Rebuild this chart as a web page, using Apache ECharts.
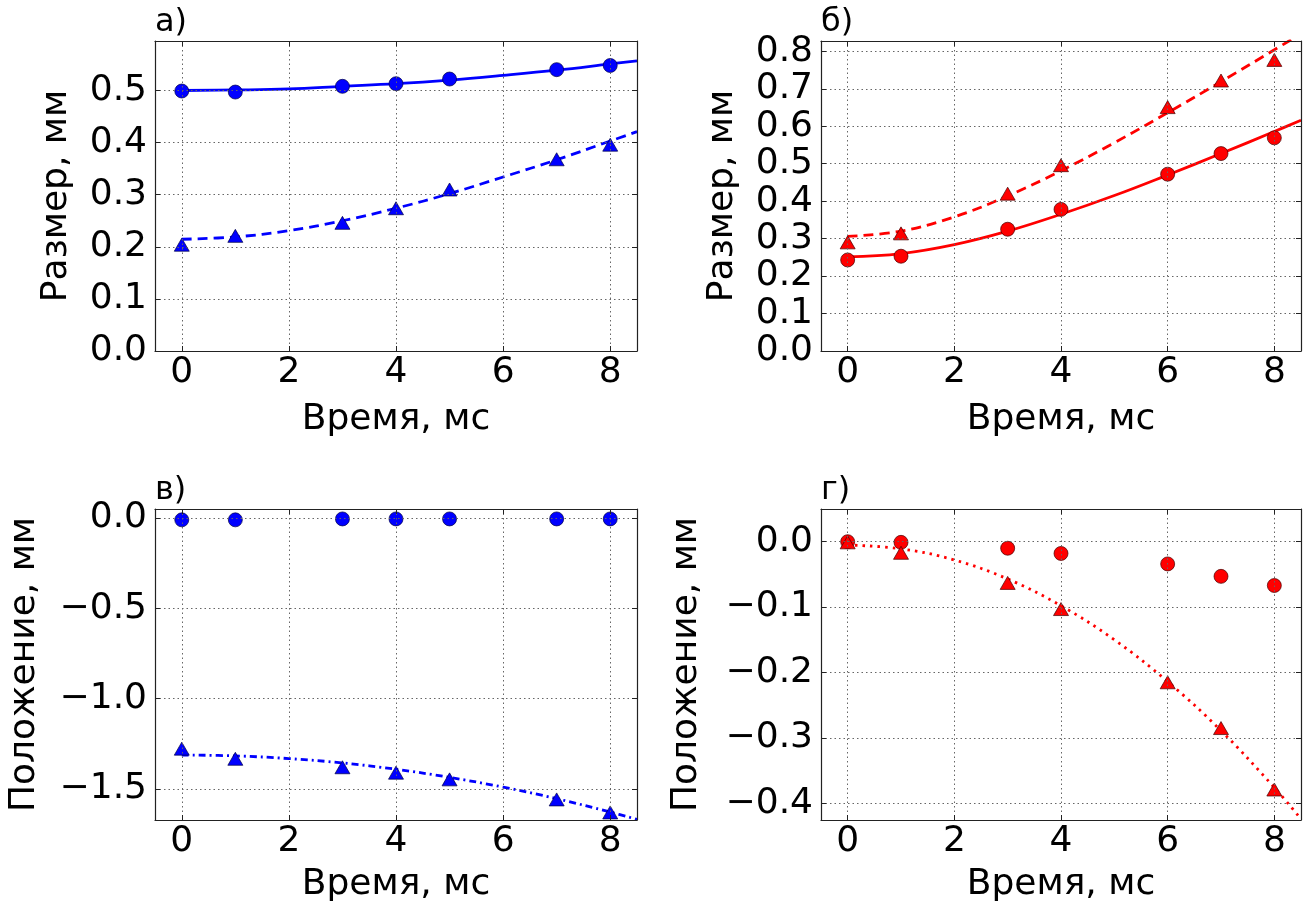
<!DOCTYPE html>
<html>
<head>
<meta charset="utf-8">
<script src="https://cdn.jsdelivr.net/npm/echarts@6/dist/echarts.min.js"></script>
<style>
html,body{margin:0;padding:0;background:#fff;}
#chart{width:1315px;height:910px;}
</style>
</head>
<body>
<div id="chart"></div>
<script>
// ---- data ----
const timeA = [0, 1, 3, 4, 5, 7, 8];          // panels а, в
const timeB = [0, 1, 3, 4, 6, 7, 8];          // panels б, г
const fitTime = [0, 1, 2, 3, 4, 5, 6, 7, 8, 8.5];

const aCircles   = [0.499, 0.497, 0.508, 0.513, 0.522, 0.540, 0.548];
const aTriangles = [0.204, 0.221, 0.246, 0.274, 0.310, 0.368, 0.396];
const aFitSolid  = [0.500, 0.501, 0.503, 0.508, 0.513, 0.520, 0.529, 0.539, 0.551, 0.557];
const aFitDashed = [0.2145, 0.219, 0.231, 0.250, 0.274, 0.302, 0.334, 0.367, 0.403, 0.421];

const bCircles   = [0.243, 0.253, 0.325, 0.378, 0.472, 0.527, 0.569];
const bTriangles = [0.290, 0.314, 0.420, 0.496, 0.651, 0.722, 0.777];
const bFitSolid  = [0.251, 0.260, 0.284, 0.320, 0.365, 0.415, 0.470, 0.527, 0.586, 0.616];
const bFitDashed = [0.306, 0.320, 0.358, 0.414, 0.481, 0.556, 0.636, 0.719, 0.804, 0.847];

const vCircles   = [-0.010, -0.010, -0.005, -0.005, -0.005, -0.005, -0.005];
const vTriangles = [-1.277, -1.333, -1.380, -1.410, -1.447, -1.558, -1.630];
const vFit       = [-1.312, -1.317, -1.332, -1.356, -1.391, -1.436, -1.490, -1.554, -1.628, -1.669];

const gCircles   = [0.000, -0.001, -0.010, -0.018, -0.034, -0.053, -0.067];
const gTriangles = [-0.001, -0.017, -0.063, -0.103, -0.215, -0.285, -0.379];
const gFit       = [-0.005, -0.011, -0.028, -0.057, -0.098, -0.150, -0.214, -0.289, -0.376, -0.424];

// tick labels
const xTicks  = [0, 2, 4, 6, 8];
const yTicksA = [0.0, 0.1, 0.2, 0.3, 0.4, 0.5];
const yTicksB = [0.0, 0.1, 0.2, 0.3, 0.4, 0.5, 0.6, 0.7, 0.8];
const yTicksV = [-1.5, -1.0, -0.5, 0.0];
const yTicksG = [-0.4, -0.3, -0.2, -0.1, 0.0];

const panelLabels = ['а)', 'б)', 'в)', 'г)'];
const xName = 'Время, мс';
const yNameSize = 'Размер, мм';
const yNamePos = 'Положение, мм';

// ---- layout / style ----
const FONT = 'DejaVu Sans';
const BLUE = '#0000ff', RED = '#ff0000';
const grids = [
  {left: 155, top: 41, width: 482, height: 310},
  {left: 821, top: 41, width: 480, height: 310},
  {left: 155, top: 509, width: 482, height: 311},
  {left: 821, top: 509, width: 480, height: 311}
];
const yRanges = [[0, 0.595], [0, 0.8275], [-1.672, 0.05], [-0.4256, 0.05]];
const yTickLists = [yTicksA, yTicksB, yTicksV, yTicksG];
const yNames = [yNameSize, yNameSize, yNamePos, yNamePos];
const yNameGaps = [80, 80, 112, 116];
const xNameGaps = [51, 51, 47, 47];

function fmt(digits) {
  return function (v) {
    return Number(v).toFixed(digits).replace('-', '\u2212');
  };
}

const xAxes = [], yAxes = [], series = [];
const lineC = '#222';
grids.forEach((g, i) => {
  xAxes.push({
    type: 'value', gridIndex: i, min: -0.5, max: 8.5, position: 'bottom', z: 5,
    name: xName, nameLocation: 'middle', nameGap: xNameGaps[i],
    nameTextStyle: {fontFamily: FONT, fontSize: 36, color: '#000'},
    axisLine: {show: true, onZero: false, lineStyle: {color: lineC, width: 1.2}},
    axisTick: {show: true, inside: true, length: 5, lineStyle: {color: lineC}, customValues: xTicks},
    axisLabel: {fontFamily: FONT, fontSize: 36, color: '#000', margin: 4, formatter: fmt(0), customValues: xTicks},
    splitLine: {show: true, lineStyle: {color: '#666', width: 1, type: [1.5, 3]}}
  });
  xAxes.push({
    type: 'value', gridIndex: i, min: -0.5, max: 8.5, position: 'top', z: 5,
    axisLine: {show: true, onZero: false, lineStyle: {color: lineC, width: 1.2}},
    axisTick: {show: true, inside: true, length: 5, lineStyle: {color: lineC}, customValues: xTicks},
    axisLabel: {show: false, customValues: xTicks}, splitLine: {show: false}
  });
  const r = yRanges[i];
  yAxes.push({
    type: 'value', gridIndex: i, min: r[0], max: r[1], position: 'left', z: 5,
    name: yNames[i], nameLocation: 'middle', nameGap: yNameGaps[i],
    nameTextStyle: {fontFamily: FONT, fontSize: 36, color: '#000'},
    axisLine: {show: true, onZero: false, lineStyle: {color: lineC, width: 1.2}},
    axisTick: {show: true, inside: true, length: 5, lineStyle: {color: lineC}, customValues: yTickLists[i]},
    axisLabel: {fontFamily: FONT, fontSize: 36, color: '#000', margin: 8, formatter: fmt(1), customValues: yTickLists[i]},
    splitLine: {show: true, lineStyle: {color: '#666', width: 1, type: [1.5, 3]}}
  });
  yAxes.push({
    type: 'value', gridIndex: i, min: r[0], max: r[1], position: 'right', z: 5,
    axisLine: {show: true, onZero: false, lineStyle: {color: lineC, width: 1.2}},
    axisTick: {show: true, inside: true, length: 5, lineStyle: {color: lineC}, customValues: yTickLists[i]},
    axisLabel: {show: false, customValues: yTickLists[i]}, splitLine: {show: false}
  });
});

function zip(xs, ys) { return xs.map((x, k) => [x, ys[k]]); }
function fitLine(i, ys, color, type) {
  return {type: 'line', xAxisIndex: 2 * i, yAxisIndex: 2 * i, data: zip(fitTime, ys),
    showSymbol: false, smooth: 0.4, clip: true, silent: true, z: 2,
    lineStyle: {color: color, width: 2.8, type: type}};
}
function pts(i, xs, ys, color, sym, edge) {
  return {type: 'scatter', xAxisIndex: 2 * i, yAxisIndex: 2 * i, data: zip(xs, ys),
    symbol: sym, symbolSize: sym === 'circle' ? 14 : [15, 13], z: 3, silent: true,
    itemStyle: {color: color, borderColor: edge, borderWidth: 0.7, opacity: 1}};
}

series.push(fitLine(0, aFitSolid, BLUE, 'solid'));
series.push(fitLine(0, aFitDashed, BLUE, [10, 6]));
series.push(pts(0, timeA, aCircles, BLUE, 'circle', '#000044'));
series.push(pts(0, timeA, aTriangles, BLUE, 'triangle', '#000044'));

series.push(fitLine(1, bFitSolid, RED, 'solid'));
series.push(fitLine(1, bFitDashed, RED, [10, 6]));
series.push(pts(1, timeB, bCircles, RED, 'circle', '#440000'));
series.push(pts(1, timeB, bTriangles, RED, 'triangle', '#440000'));

series.push(fitLine(2, vFit, BLUE, [7, 4, 2, 4]));
series.push(pts(2, timeA, vCircles, BLUE, 'circle', '#000044'));
series.push(pts(2, timeA, vTriangles, BLUE, 'triangle', '#000044'));

series.push(fitLine(3, gFit, RED, [2.5, 5]));
series.push(pts(3, timeB, gCircles, RED, 'circle', '#440000'));
series.push(pts(3, timeB, gTriangles, RED, 'triangle', '#440000'));

const graphics = grids.map((g, i) => ({
  type: 'text', left: g.left, top: g.top - 34, z: 10,
  style: {text: panelLabels[i], font: '32px "' + FONT + '"', fill: '#000'}
}));

const chart = echarts.init(document.getElementById('chart'), null, {renderer: 'canvas'});
chart.setOption({
  animation: false,
  backgroundColor: '#fff',
  grid: grids.map(g => Object.assign({containLabel: false}, g)),
  xAxis: xAxes,
  yAxis: yAxes,
  series: series,
  graphic: graphics
});
</script>
</body>
</html>
